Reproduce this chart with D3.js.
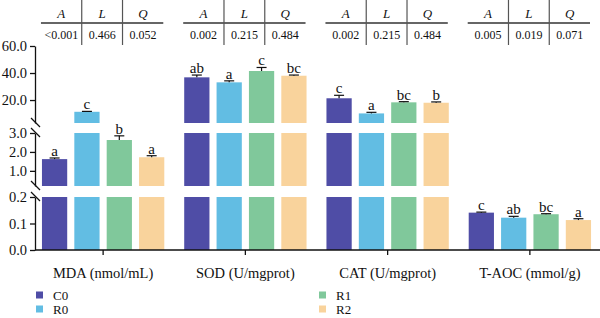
<!DOCTYPE html>
<html>
<head>
<meta charset="UTF-8">
<title>Oxidative stress indices</title>
<script src="https://d3js.org/d3.v7.min.js"></script>
<style>
  body { margin: 0; background: #fff; }
  svg { display: block; font-family: "Liberation Serif", "DejaVu Serif", serif; }
</style>
</head>
<body>
<div id="chart"></div>
<script>
// data
const categories = ["MDA (nmol/mL)", "SOD (U/mgprot)", "CAT (U/mgprot)", "T-AOC (mmol/g)"];
const groups = ["C0", "R0", "R1", "R2"];
const colors = ["#4f4da6", "#62bde3", "#80c89b", "#f9d39c"];

const meanC0 = [1.62, 36.8, 21.3, 0.141];
const meanR0 = [11.3, 33.1, 10.1, 0.122];
const meanR1 = [2.63, 41.5, 18.3, 0.135];
const meanR2 = [1.72, 38.0, 18.0, 0.113];

const errC0 = [0.06, 1.7, 2.2, 0.002];
const errR0 = [0.3, 1.1, 0.8, 0.005];
const errR1 = [0.22, 2.6, 0.5, 0.002];
const errR2 = [0.08, 0.5, 0.6, 0.005];

const letC0 = ["a", "ab", "c", "c"];
const letR0 = ["c", "a", "a", "ab"];
const letR1 = ["b", "c", "bc", "bc"];
const letR2 = ["a", "bc", "b", "a"];

const pA = ["<0.001", "0.002", "0.002", "0.005"];
const pL = ["0.466", "0.215", "0.215", "0.019"];
const pQ = ["0.052", "0.484", "0.484", "0.071"];
const pHeads = ["A", "L", "Q"];

// broken axis pieces: value domain, ticks
const segBottom = [0, 0.2], ticksBottom = [0, 0.1, 0.2];
const segMiddle = [0.2, 3], ticksMiddle = [1, 2, 3];
const segTop = [3, 60], ticksTop = [20, 40, 60];

const width = 600, height = 318;
const axisX = 35, baseY = 250;

const svg = d3.select("#chart").append("svg")
    .attr("width", width)
    .attr("height", height);

const segments = [
    { dom: segBottom, ticks: ticksBottom, y: d3.scaleLinear().domain(segBottom).range([250, 197]) },
    { dom: segMiddle, ticks: ticksMiddle, y: d3.scaleLinear().domain(segMiddle).range([186, 133]) },
    { dom: segTop,    ticks: ticksTop,    y: d3.scaleLinear().domain(segTop).range([123, 46]) }
];

const x0 = d3.scaleBand().domain(categories).range([32, 601]).paddingInner(0.14).paddingOuter(0.07);
const x1 = d3.scaleBand().domain(groups).range([0, x0.bandwidth()]).paddingInner(0.22);

const means = [meanC0, meanR0, meanR1, meanR2];
const errs = [errC0, errR0, errR1, errR2];
const lets = [letC0, letR0, letR1, letR2];

const bars = [];
categories.forEach((c, ci) => {
    groups.forEach((g, gi) => {
        bars.push({ cat: c, grp: g, color: colors[gi], v: means[gi][ci], e: errs[gi][ci], lab: lets[gi][ci] });
    });
});

function segFor(v) {
    return segments.find(s => v > s.dom[0] && v <= s.dom[1]) || segments[2];
}

// bars, one piece per axis segment
const barG = svg.append("g");
segments.forEach(s => {
    barG.append("g").selectAll("rect")
        .data(bars.filter(d => d.v > s.dom[0]))
        .join("rect")
        .attr("x", d => x0(d.cat) + x1(d.grp))
        .attr("width", x1.bandwidth())
        .attr("y", d => s.y(Math.min(d.v, s.dom[1])))
        .attr("height", d => s.y(s.dom[0]) - s.y(Math.min(d.v, s.dom[1])))
        .attr("fill", d => d.color);
});

// error bars (upper half) and letters
const errG = svg.append("g").attr("stroke", "#111").attr("stroke-width", 1.2);
bars.forEach(d => {
    const s = segFor(d.v);
    const cx = x0(d.cat) + x1(d.grp) + x1.bandwidth() / 2;
    const yTop = s.y(d.v + d.e);
    errG.append("line").attr("x1", cx).attr("x2", cx).attr("y1", s.y(d.v)).attr("y2", yTop);
    errG.append("line").attr("x1", cx - 5).attr("x2", cx + 5).attr("y1", yTop).attr("y2", yTop);
    svg.append("text")
        .attr("x", cx)
        .attr("y", yTop - 2)
        .attr("text-anchor", "middle")
        .attr("font-size", 15)
        .attr("fill", "#111")
        .text(d.lab);
});

// y axis pieces
segments.forEach(s => {
    const g = svg.append("g").attr("transform", `translate(${axisX},0)`);
    g.call(d3.axisLeft(s.y).tickValues(s.ticks).tickSize(5).tickSizeOuter(0).tickFormat(d3.format(".1f")));
    g.select(".domain").attr("stroke", "#111").attr("stroke-width", 1.3);
    g.selectAll(".tick line").attr("stroke", "#111").attr("stroke-width", 1.3);
    g.selectAll(".tick text").attr("font-size", 14.5).attr("font-family", "Liberation Serif").attr("fill", "#111").attr("x", -8);
});

// break marks
const brk = svg.append("g").attr("stroke", "#111").attr("stroke-width", 1.2);
[123, 133, 186, 197].forEach(y => {
    brk.append("line").attr("x1", axisX - 4).attr("y1", y - 5).attr("x2", axisX + 5).attr("y2", y + 4);
});

// x axis
const xg = svg.append("g").attr("transform", `translate(0,${baseY})`);
xg.append("line").attr("x1", axisX).attr("x2", width).attr("stroke", "#111").attr("stroke-width", 1.3);
xg.selectAll("line.tk").data(categories).join("line")
    .attr("class", "tk")
    .attr("x1", d => x0(d) + x0.bandwidth() / 2)
    .attr("x2", d => x0(d) + x0.bandwidth() / 2)
    .attr("y1", 0).attr("y2", 5)
    .attr("stroke", "#111").attr("stroke-width", 1.3);
xg.selectAll("text").data(categories).join("text")
    .attr("x", d => x0(d) + x0.bandwidth() / 2)
    .attr("y", 28)
    .attr("text-anchor", "middle")
    .attr("font-size", 14.5)
    .attr("fill", "#111")
    .text(d => d);

// p-value tables above each group
categories.forEach((c, ci) => {
    const t = svg.append("g");
    const left = x0(c) - 1, w = x0.bandwidth();
    const col = d3.scaleBand().domain(pHeads).range([left, left + w]);
    t.append("line").attr("x1", left).attr("x2", left + w).attr("y1", 23).attr("y2", 23)
        .attr("stroke", "#333").attr("stroke-width", 1.3);
    [pHeads[1], pHeads[2]].forEach(h => {
        t.append("line").attr("x1", col(h)).attr("x2", col(h)).attr("y1", 0).attr("y2", 45)
            .attr("stroke", "#555").attr("stroke-width", 1.2);
    });
    pHeads.forEach(h => {
        t.append("text").attr("x", col(h) + col.bandwidth() / 2).attr("y", 18)
            .attr("text-anchor", "middle").attr("font-size", 13).attr("font-style", "italic")
            .attr("fill", "#111").text(h);
    });
    [pA[ci], pL[ci], pQ[ci]].forEach((v, i) => {
        t.append("text").attr("x", col(pHeads[i]) + col.bandwidth() / 2).attr("y", 39)
            .attr("text-anchor", "middle").attr("font-size", 12)
            .attr("fill", "#111").text(v);
    });
});

// legend
const legPos = [[36, 295], [36, 309], [319, 295], [319, 309]];
groups.forEach((g, i) => {
    const lg = svg.append("g").attr("transform", `translate(${legPos[i][0]},${legPos[i][1]})`);
    lg.append("rect").attr("x", 0).attr("y", -3.5).attr("width", 7).attr("height", 7).attr("fill", colors[i]);
    lg.append("text").attr("x", 17).attr("y", 4.5).attr("font-size", 13).attr("fill", "#111").text(g);
});
</script>
</body>
</html>
